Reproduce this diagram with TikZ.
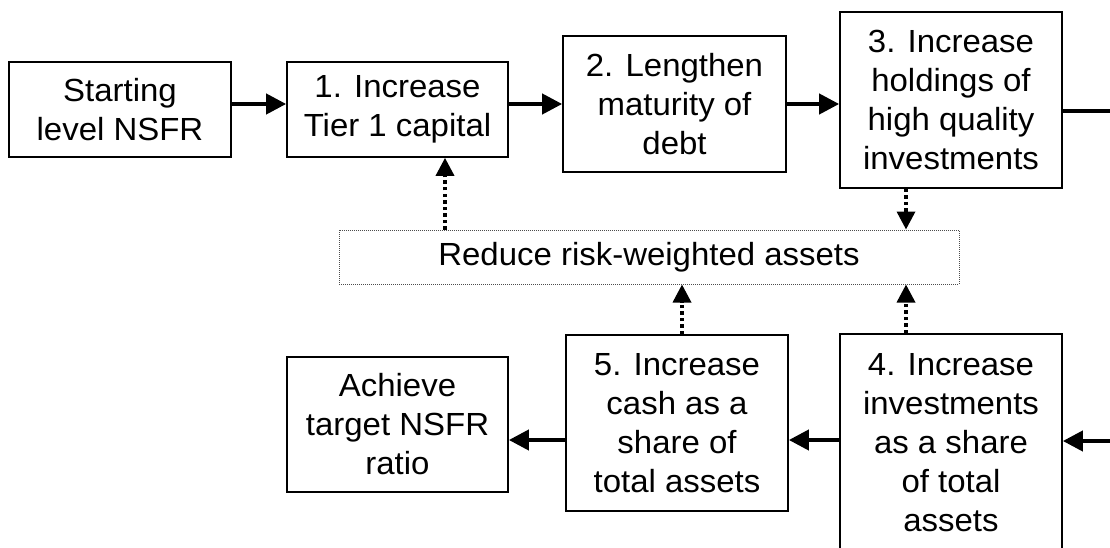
\documentclass[tikz,border=0pt]{standalone}
\usepackage{fontspec}
\setmainfont{Liberation Sans}[FakeStretch=1.03]
\usetikzlibrary{arrows.meta}
\begin{document}
\begin{tikzpicture}[x=1pt,y=-1pt,
  box/.style={draw=black,line width=1.7pt,rectangle,align=center,inner sep=0pt,
    font=\fontsize{32}{39}\selectfont},
  rwbox/.style={draw=black!70,line width=1pt,dash pattern=on 1pt off 1pt,rectangle,
    inner sep=0pt,font=\fontsize{32}{39}\selectfont},
  arr/.style={line width=4pt,-{Triangle[length=20pt,width=20pt]}},
  plain/.style={line width=4pt},
  darr/.style={line width=3.5pt,dash pattern=on 3.5pt off 3pt,
    -{Triangle[length=18pt,width=18pt]}}]
\useasboundingbox (0,0) rectangle (1110,548);
\clip (0,0) rectangle (1110,548);
% nodes
\node[box,minimum width=222pt,minimum height=95pt] (start) at (120,109.5) {Starting\\level NSFR};
\node[box,minimum width=221pt,minimum height=95pt] (b1) at (397.5,109.5) {1. Increase\\Tier 1 capital};
\node[box,minimum width=223pt,minimum height=136pt] (b2) at (674.5,104) {2. Lengthen\\maturity of\\debt};
\node[box,minimum width=222pt,minimum height=176pt] (b3) at (951,100) {3. Increase\\holdings of\\high quality\\investments};
\node[rwbox,minimum width=620pt,minimum height=54pt] (rw) at (649,257) {Reduce risk-weighted assets};
\node[box,minimum width=221pt,minimum height=135pt] (ach) at (397.5,424.5) {Achieve\\target NSFR\\ratio};
\node[box,minimum width=222pt,minimum height=176pt] (b5) at (677,423) {5. Increase\\cash as a\\share of\\total assets};
\node[box,minimum width=222pt,minimum height=216pt,text depth=0pt] (b4) at (951,442) {4. Increase\\investments\\as a share\\of total\\assets};
% helper coordinates
\coordinate (r1) at (0,104);
\coordinate (r3) at (0,111);
\coordinate (r2) at (0,440);
\coordinate (eT) at (1115,111);
\coordinate (eB) at (1115,441);
\coordinate (c1) at (445,0);
\coordinate (c3) at (906,0);
\coordinate (c5) at (682,0);
% connectors
\draw[arr] (start.east |- r1) -- (b1.west |- r1);
\draw[arr] (b1.east |- r1) -- (b2.west |- r1);
\draw[arr] (b2.east |- r1) -- (b3.west |- r1);
\draw[plain] (b3.east |- r3) -- (eT);
\draw[arr] (eB) -- (b4.east |- eB);
\draw[arr] (b4.west |- r2) -- (b5.east |- r2);
\draw[arr] (b5.west |- r2) -- (ach.east |- r2);
\draw[darr] (rw.north -| c1) -- (b1.south -| c1);
\draw[darr] (b3.south -| c3) -- (rw.north -| c3);
\draw[darr] (b4.north -| c3) -- (rw.south -| c3);
\draw[darr] (b5.north -| c5) -- (rw.south -| c5);
\end{tikzpicture}
\end{document}
